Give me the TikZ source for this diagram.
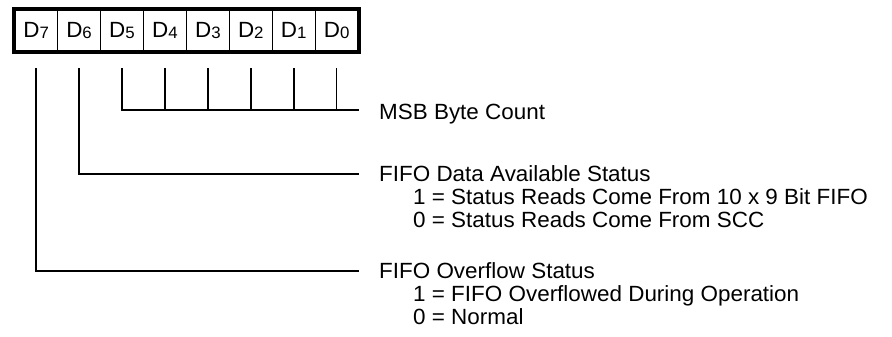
\documentclass[tikz,border=0pt]{standalone}
\usepackage{fontspec}
\setmainfont{Liberation Sans}[FakeStretch=1.02]
\usetikzlibrary{calc}
\newcommand\bitsub[1]{\raisebox{-1pt}{\fontsize{16.5}{16.5}\selectfont #1}}
\begin{document}
\begin{tikzpicture}[x=1pt,y=-1pt,
  cell/.style={minimum width=42.94pt, minimum height=42pt, inner sep=0pt,
    draw=black, line width=1.3pt, anchor=north west,
    font=\fontsize{22}{24}\selectfont},
  frame/.style={line width=4pt},
  wire/.style={line width=1.5pt},
  lbl/.style={anchor=base west, inner sep=0pt, font=\fontsize{22}{23}\selectfont}]
\useasboundingbox (0,0) rectangle (892,337);
% register cells
\foreach \b [evaluate=\b as \x using 14+42.94*(7-\b)] in {7,6,5,4,3,2,1,0}
  \node[cell] (d\b) at (\x,9) {D\bitsub{\b}};
\draw[frame] (d7.north west) rectangle (d0.south east);
% labels
\node[lbl] (msb)  at (379,120) {MSB Byte Count};
\node[lbl] (fda)  at (379,181) {FIFO Data Available Status};
\node[lbl] (fda1) at (413,204) {1 = Status Reads Come From 10 x 9 Bit FIFO};
\node[lbl] (fda0) at (413,227) {0 = Status Reads Come From SCC};
\node[lbl] (ovf)  at (379,278) {FIFO Overflow Status};
\node[lbl] (ovf1) at (413,301) {1 = FIFO Overflowed During Operation};
\node[lbl] (ovf0) at (413,324) {0 = Normal};
% line ends
\coordinate (e1) at (359,110);
\coordinate (e2) at (359,174);
\coordinate (e3) at (359,271);
% connectors
\draw[wire] ($(d5.south)+(0,16)$) |- (e1);
\foreach \b in {4,3,2,1,0}
  \draw[wire] ($(d\b.south)+(0,16)$) -- (d\b.south |- e1);
\draw[wire] ($(d6.south)+(0,16)$) |- (e2);
\draw[wire] ($(d7.south)+(0,16)$) |- (e3);
\end{tikzpicture}
\end{document}
